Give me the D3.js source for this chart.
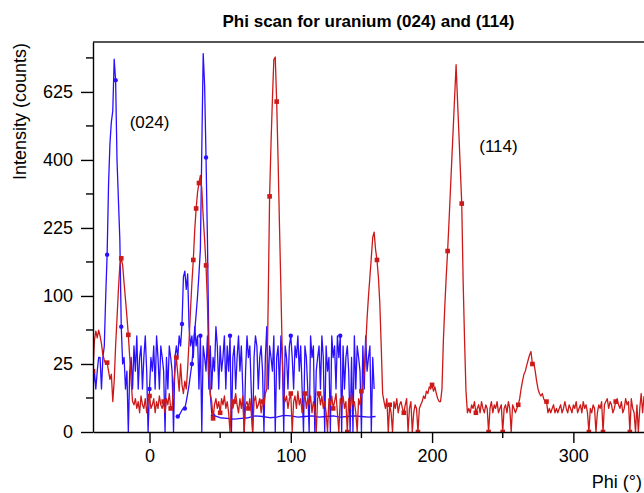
<!DOCTYPE html>
<html>
<head>
<meta charset="utf-8">
<script src="https://cdn.jsdelivr.net/npm/d3@7"></script>
<style>
  body { margin: 0; background: #fff; }
  text { font-family: "Liberation Sans", Arial, Helvetica, sans-serif; }
</style>
</head>
<body>
<script>
// phi scan, counts (1 deg steps)
const title = "Phi scan for uranium (024) and (114)";
const yTicks = [0, 25, 100, 225, 400, 625];
const yMinor = [6.25, 56.25, 156.25, 306.25, 506.25, 756.25];
const xTicks = [0, 100, 200, 300];
const xMinor = [50, 150, 250];

// (114) scan, phi -40 .. 350
const redStart = -40;
const redCounts = [
  20, 45, 55, 48, 56, 50, 42, 32, 28, 25,         // -40
  26, 20, 15, 18, 5, 14, 40, 70, 110, 150,        // -30
  163, 150, 120, 95, 72, 51, 30, 14, 5, 4,        // -20
  6, 3, 5, 2, 7, 4, 3, 6, 2, 5,                   // -10
  7, 3, 4, 6, 2, 5, 3, 7, 4, 3,                   // 0
  5, 2, 6, 4, 8, 3, 3, 12, 20, 30,                // 10
  18, 9, 25, 12, 8, 14, 10, 22, 45, 80,           // 20
  120, 160, 220, 270, 310, 335, 356, 320, 250, 200, // 30
  150, 90, 20, 8, 5, 1, 4, 6, 3, 5,               // 40
  2, 6, 4, 7, 3, 5, 2, 0, 6, 3,                   // 50
  5, 8, 4, 2, 6, 3, 7, 0, 4, 5,                   // 60
  3, 6, 2, 0, 5, 7, 3, 4, 6, 2,                   // 70
  5, 4, 8, 10, 90, 300, 450, 600, 750, 760,       // 80
  590, 400, 230, 110, 30, 8, 5, 7, 3, 6,          // 90
  8, 0, 5, 7, 3, 9, 4, 6, 2, 5,                   // 100
  8, 3, 6, 4, 7, 2, 5, 3, 0, 6,                   // 110
  8, 4, 7, 3, 5, 2, 0, 6, 4, 7,                   // 120
  3, 5, 8, 2, 0, 6, 4, 7, 3, 5,                   // 130
  0, 6, 3, 8, 4, 5, 2, 0, 6, 4,                   // 140
  9, 10, 20, 40, 70, 100, 130, 165, 205, 216,     // 150
  180, 160, 130, 90, 40, 8, 5, 3, 6, 0,           // 160
  4, 2, 0, 5, 3, 6, 2, 4, 5, 3,                   // 170
  2, 4, 6, 0, 3, 5, 0, 2, 4, 3,                   // 180
  0, 3, 4, 5, 7, 6, 9, 8, 11, 10,                 // 190
  12, 9, 11, 8, 6, 5, 5, 10, 45, 85,              // 200
  130, 177, 240, 317, 404, 502, 610, 729, 595, 480, // 210
  372, 282, 121, 45, 9, 2, 3, 2, 4, 3,            // 220
  5, 2, 3, 4, 2, 5, 3, 2, 4, 3,                   // 230
  0, 3, 5, 2, 4, 3, 5, 2, 3, 4,                   // 240
  0, 3, 4, 2, 5, 3, 0, 4, 3, 2,                   // 250
  3, 4, 6, 10, 14, 18, 20, 24, 28, 32,            // 260
  35, 25, 26, 20, 14, 10, 8, 7, 8, 6,             // 270
  5, 5, 2, 3, 2, 3, 4, 2, 3, 2,                   // 280
  3, 4, 2, 3, 5, 3, 2, 4, 3, 2,                   // 290
  4, 3, 5, 2, 3, 4, 2, 5, 3, 4,                   // 300
  2, 0, 3, 2, 4, 3, 0, 2, 4, 3,                   // 310
  5, 0, 4, 5, 6, 3, 5, 4, 2, 3,                   // 320
  5, 6, 4, 3, 5, 2, 3, 6, 4, 5,                   // 330
  0, 6, 3, 2, 0, 4, 0, 3, 8, 2,                   // 340
  7                                               // 350
];
const redMarks = [-40, -30, -20, -15, 0, 10, 15, 19, 31, 33, 35, 40, 45, 50, 60, 70, 80, 85, 90,
  100, 110, 120, 130, 140, 150, 161, 170, 180, 190, 200, 211, 221, 231, 240, 250, 261, 271, 281,
  311, 321, 330, 340];

// (024) scan, noisy part, phi -40 .. 159
const blueStart = -40;
const blueCounts = [
  10, 20, 10, 20, 30, 30, 10, 30, 40, 100,        // -40
  170, 330, 450, 520, 557, 751, 669, 400, 290, 200, // -30
  60, 25, 30, 10, 20, 0, 20, 30, 10, 40,          // -20
  20, 50, 10, 30, 40, 10, 30, 50, 20, 0,          // -10
  10, 30, 20, 40, 10, 50, 30, 10, 40, 30,         // 0
  20, 0, 30, 10, 40, 30, 20, 0, 30, 40,           // 10
  30, 50, 40, 63, 130, 140, 110, 135, 60, 40,     // 20
  50, 30, 60, 40, 50, 10, 50, 0, 40, 30,          // 30
  20, 50, 10, 40, 10, 30, 20, 60, 40, 10,         // 40
  40, 20, 30, 50, 10, 40, 20, 50, 0, 30,          // 50
  40, 10, 30, 50, 20, 40, 10, 0, 20, 50,          // 60
  30, 40, 10, 0, 30, 50, 40, 10, 30, 40,          // 70
  20, 0, 30, 60, 10, 40, 30, 20, 50, 0,           // 80
  30, 40, 10, 50, 30, 0, 40, 30, 10, 40,          // 90
  50, 30, 10, 40, 30, 50, 20, 40, 10, 0,          // 100
  40, 30, 10, 0, 50, 30, 40, 0, 20, 30,           // 110
  40, 10, 50, 30, 0, 40, 20, 30, 0, 50,           // 120
  30, 40, 10, 50, 30, 50, 0, 40, 10, 30,          // 130
  40, 20, 0, 30, 0, 50, 10, 40, 30, 20,           // 140
  0, 40, 10, 50, 20, 30, 40, 0, 30, 10            // 150
];
const blueMarks = [-30, -24, -20, 0, 23, 36, 57, 100, 135];

// (024) scan, low background part
const blueLowPhi = [19, 20, 21, 22, 23, 24, 25, 26, 27, 28, 29, 30, 31, 32, 33, 34, 35, 36, 37, 38,
  39, 40, 41, 42, 43, 44, 45, 50, 55, 60, 65, 70, 75, 80, 85, 90, 95, 100, 105, 110, 115, 120,
  125, 130, 135, 140, 145, 150, 155, 160];
const blueLowCounts = [1.3, 1.3, 1.5, 2, 2.6, 3, 3, 5, 8, 12, 18, 25, 40, 55, 75, 100, 135, 180, 430, 774,
  650, 407, 200, 40, 8, 2, 1.5, 1.1, 1.0, 0.9, 1.0, 1.1, 1.4, 1.3, 1.1, 1.2, 1.5, 1.4, 1.2, 1.3, 1.4, 1.2,
  1.3, 1.4, 1.2, 1.3, 1.4, 1.3, 1.2, 1.3];
const blueLowMarks = [20, 25, 30, 40, 45];

const red = "#cc1a1a";
const blue = "#2a10ff";

const chart = () => {
  const width = 644;
  const height = 493;
  const margin = {top: 42, right: 0, bottom: 61, left: 93};

  const svg = d3.select("body").append("svg")
      .attr("width", width)
      .attr("height", height);

  const x = d3.scaleLinear()
      .domain([-40, 350])
      .range([margin.left, width - margin.right]);
  const y = d3.scaleSqrt()
      .domain([0, 822])
      .range([height - margin.bottom, margin.top]);

  svg.append("clipPath").attr("id", "plot")
    .append("rect")
      .attr("x", margin.left)
      .attr("y", margin.top)
      .attr("width", width - margin.left - margin.right)
      .attr("height", height - margin.top - margin.bottom);

  const toPts = (phi, counts) => counts.map((c, i) => ({phi: phi[i], c}));
  const red_pts = toPts(redCounts.map((c, i) => redStart + i), redCounts);
  const blue_pts = toPts(blueCounts.map((c, i) => blueStart + i), blueCounts);
  const low_pts = toPts(blueLowPhi, blueLowCounts);

  const line = d3.line().x(d => x(d.phi)).y(d => y(d.c));
  const g = svg.append("g").attr("clip-path", "url(#plot)");

  const series = [
    {pts: blue_pts, marks: blueMarks, color: blue, shape: "circle"},
    {pts: low_pts, marks: blueLowMarks, color: blue, shape: "circle"},
    {pts: red_pts, marks: redMarks, color: red, shape: "square"}
  ];

  series.forEach(s => {
    g.append("path")
      .datum(s.pts)
      .attr("fill", "none")
      .attr("stroke", s.color)
      .attr("stroke-width", 1.3)
      .attr("stroke-linejoin", "round")
      .attr("d", line);

    const m = s.pts.filter(d => s.marks.includes(d.phi));
    if (s.shape == "circle") {
      g.selectAll(null).data(m).enter().append("circle")
        .attr("cx", d => x(d.phi))
        .attr("cy", d => y(d.c))
        .attr("r", 2.2)
        .attr("fill", s.color);
    } else {
      g.selectAll(null).data(m).enter().append("rect")
        .attr("x", d => x(d.phi) - 2.3)
        .attr("y", d => y(d.c) - 2.3)
        .attr("width", 4.6)
        .attr("height", 4.6)
        .attr("fill", s.color);
    }
  });

  // frame: top line
  svg.append("line")
    .attr("x1", margin.left).attr("x2", width)
    .attr("y1", margin.top).attr("y2", margin.top)
    .attr("stroke", "#555").attr("stroke-width", 2);

  // y axis
  const yAxis = svg.append("g")
      .attr("transform", `translate(${margin.left},0)`)
      .call(d3.axisLeft(y).tickValues(yTicks).tickSize(12).tickPadding(8).tickSizeOuter(0));
  yAxis.selectAll(".tick text").attr("font-size", 18).attr("font-family", null);
  yAxis.append("g").selectAll("line").data(yMinor).enter().append("line")
      .attr("x1", -7).attr("x2", 0)
      .attr("y1", d => y(d)).attr("y2", d => y(d))
      .attr("stroke", "#000");
  yAxis.selectAll("path, line").attr("stroke-width", 1.4);

  // x axis
  const xAxis = svg.append("g")
      .attr("transform", `translate(0,${height - margin.bottom})`)
      .call(d3.axisBottom(x).tickValues(xTicks).tickSize(11).tickPadding(6).tickSizeOuter(0));
  xAxis.selectAll(".tick text").attr("font-size", 18).attr("font-family", null);
  xAxis.append("g").selectAll("line").data(xMinor).enter().append("line")
      .attr("x1", d => x(d)).attr("x2", d => x(d))
      .attr("y1", 0).attr("y2", 6)
      .attr("stroke", "#000");
  xAxis.selectAll("path, line").attr("stroke-width", 1.4);

  svg.append("text")
      .attr("x", (margin.left + width) / 2)
      .attr("y", 27)
      .attr("text-anchor", "middle")
      .attr("font-size", 17)
      .attr("font-weight", "bold")
      .text(title);

  svg.append("text")
      .attr("transform", `translate(26,${margin.top + 1}) rotate(-90)`)
      .attr("text-anchor", "end")
      .attr("font-size", 18)
      .text("Intensity (counts)");

  svg.append("text")
      .attr("x", width - 2)
      .attr("y", 488)
      .attr("text-anchor", "end")
      .attr("font-size", 18)
      .text("Phi (°)");

  svg.append("text")
      .attr("x", x(0))
      .attr("y", 128)
      .attr("text-anchor", "middle")
      .attr("font-size", 17)
      .text("(024)");

  svg.append("text")
      .attr("x", x(247))
      .attr("y", 152)
      .attr("text-anchor", "middle")
      .attr("font-size", 17)
      .text("(114)");
};

chart();
</script>
</body>
</html>
